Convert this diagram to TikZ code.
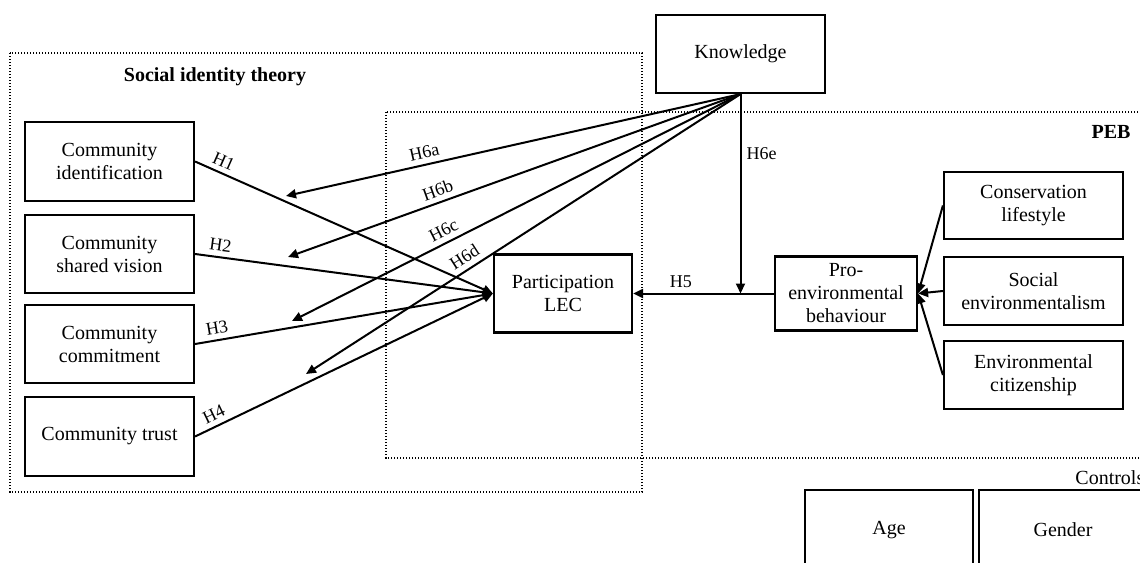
\documentclass[tikz,border=0pt]{standalone}
\usepackage{fontspec}
\setmainfont{Liberation Serif}
\usetikzlibrary{arrows.meta}
\begin{document}
\begin{tikzpicture}[x=0.5pt,y=-0.5pt,
  box/.style={draw, line width=1.1pt, align=center, inner sep=1pt, font=\fontsize{10}{11.5}\selectfont},
  grp/.style={draw, line width=1pt, dash pattern=on 0.7pt off 0.8pt},
  arr/.style={-{Triangle[length=5pt,width=4.5pt]}, line width=1pt},
  hyp/.style={font=\fontsize{9}{10}\selectfont, inner sep=2.5pt},
  ttl/.style={font=\fontsize{10}{12}\selectfont\bfseries}]
\useasboundingbox (0,0) rectangle (1140,562);
\clip (0,0) rectangle (1140,562);
\draw[grp] (10,53) rectangle (642,492);
\draw[grp] (386,112) rectangle (1160,458);
\node[ttl] (sit) at (215,77) {Social identity theory};
\node[ttl] (pebtitle) at (1111,132) {PEB};
\node[anchor=west, inner sep=0pt, font=\fontsize{10}{12}\selectfont] (ctrl) at (1075,478) {Controls};
\node[box, minimum width=84.5pt, minimum height=39.5pt] (ci) at (109.5,161.5) {Community\\identification};
\node[box, minimum width=84.5pt, minimum height=39pt] (csv) at (109.5,254) {Community\\shared vision};
\node[box, minimum width=84.5pt, minimum height=39pt] (cc) at (109.5,344) {Community\\commitment};
\node[box, minimum width=84.5pt, minimum height=39.5pt] (ct) at (109.5,436.5) {Community trust};
\node[box, minimum width=84.5pt, minimum height=39pt] (know) at (740.5,54) {Knowledge};
\node[box, minimum width=69pt, minimum height=39pt] (part) at (563,293.5) {Participation\\LEC};
\node[box, minimum width=71pt, minimum height=37pt] (peb) at (846,293.5) {Pro-\\environmental\\behaviour};
\node[box, minimum width=89.5pt, minimum height=33.5pt] (cl) at (1033.5,205.5) {Conservation\\lifestyle};
\node[box, minimum width=89.5pt, minimum height=34pt] (se) at (1033.5,291) {Social\\environmentalism};
\node[box, minimum width=89.5pt, minimum height=34pt] (ec) at (1033.5,375) {Environmental\\citizenship};
\node[box, minimum width=84pt, minimum height=40pt] (age) at (889,530) {Age};
\node[box, minimum width=84pt, minimum height=40pt] (gender) at (1063,530) {Gender};
\coordinate (e6a) at (286,196);
\coordinate (e6b) at (288,257);
\coordinate (e6c) at (292,321);
\coordinate (e6d) at (306,374);
\foreach \b/\l in {ci/H1, csv/H2, cc/H3, ct/H4}
  \draw[arr] (\b.east) -- node[hyp, sloped, above, pos=0.08] {\l} (part.west);
\foreach \e/\l/\p in {e6a/H6a/0.69, e6b/H6b/0.66, e6c/H6c/0.65, e6d/H6d/0.62}
  \draw[arr] (know.south) -- node[hyp, sloped, above, pos=\p] {\l} (\e);
\draw[arr] (know.south) -- node[hyp, right, pos=0.3] {H6e} (know.south |- peb.west);
\draw[arr] (peb.west) -- node[hyp, above, pos=0.66] {H5} (part.east);
\foreach \d in {cl, se, ec}
  \draw[arr] (\d.west) -- (peb.east);
\end{tikzpicture}
\end{document}
